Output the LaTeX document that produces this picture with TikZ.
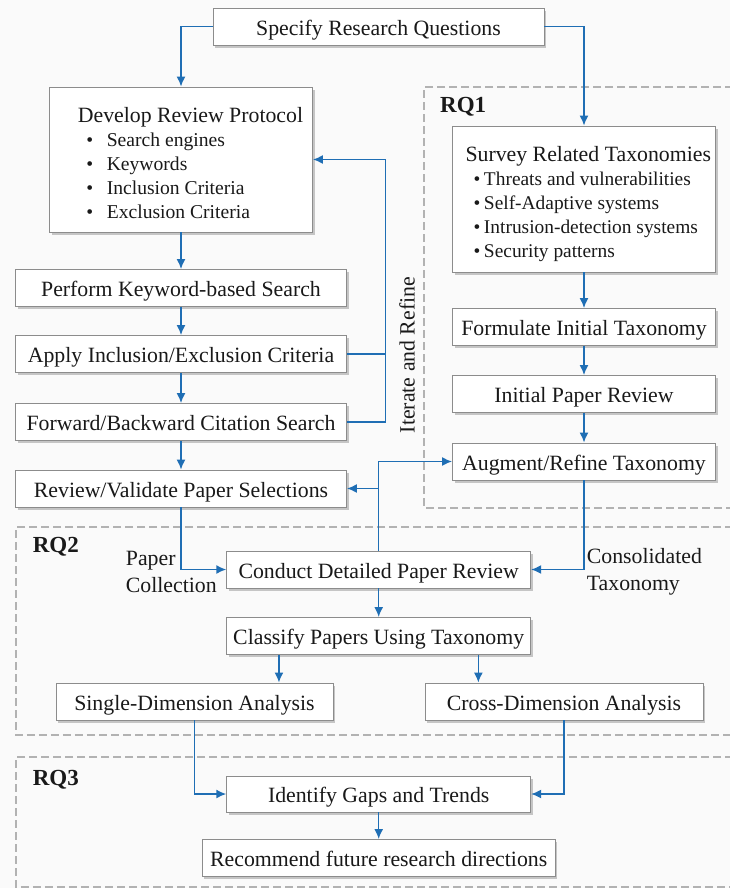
\documentclass[tikz,border=0pt]{standalone}
\usepackage{fontspec}
\setmainfont{Liberation Serif}
\usetikzlibrary{arrows.meta,shadows}
\definecolor{flowblue}{RGB}{31,110,180}
\definecolor{boxline}{RGB}{140,140,140}
\definecolor{rqline}{RGB}{178,178,178}
\definecolor{pagebg}{RGB}{250,250,250}
\definecolor{inktext}{RGB}{25,25,25}
\newcommand{\bodyfont}{\fontsize{21.8bp}{24bp}\selectfont}
\newcommand{\devitem}[1]{{\fontsize{19.6bp}{24bp}\selectfont\hspace*{27.6bp}\textbullet\hspace{13.5bp}#1}}
\newcommand{\surveyitem}[1]{{\fontsize{19.4bp}{23.3bp}\selectfont\hspace*{16.7bp}\textbullet\hspace{3.5bp}#1}}
\tikzset{
  stepbox/.style={draw=boxline, fill=white, line width=0.9bp, inner sep=0bp,
    minimum height=37bp, text height=18bp, text depth=1bp, text=inktext, font=\bodyfont,
    drop shadow={shadow xshift=2bp, shadow yshift=-2.5bp, opacity=0.3, fill=black!70}},
  listbox/.style={stepbox, text height=, text depth=, align=left},
  flow/.style={flowblue, line width=1.5bp, ->},
  flowline/.style={flowblue, line width=1.5bp},
  rqframe/.style={rqline, line width=2.6bp, dash pattern=on 8bp off 4bp},
  rqlabel/.style={font=\fontsize{23bp}{26bp}\selectfont\bfseries, text=inktext, anchor=west, inner sep=0bp},
  note/.style={font=\fontsize{21.8bp}{27bp}\selectfont, text=inktext, align=left, anchor=west, inner sep=0bp},
}
\begin{document}
\begin{tikzpicture}[>={Latex[length=10bp,width=9bp]},line join=miter]
\useasboundingbox (0bp,0bp) rectangle (730bp,-888bp);
\fill [pagebg] (0bp,0bp) rectangle (730bp,-888bp);
%% research question frames
\draw [rqframe] (745bp,-87bp) -- (424bp,-87bp) -- (424bp,-508bp) -- (745bp,-508bp);
\draw [rqframe] (745bp,-527bp) -- (16bp,-527bp) -- (16bp,-735bp) -- (745bp,-735bp);
\draw [rqframe] (745bp,-757bp) -- (16bp,-757bp) -- (16bp,-887bp) -- (745bp,-887bp);
\node (node_rq1) at (440bp,-107bp) [rqlabel] {RQ1};
\node (node_rq2) at (32.6bp,-547bp) [rqlabel] {RQ2};
\node (node_rq3) at (32.6bp,-780bp) [rqlabel] {RQ3};
%%
\node (node_specify) at (378.5bp,-26.5bp) [stepbox,minimum width=331bp] {Specify Research Questions};
\node (node_develop) at (181bp,-159.5bp) [listbox,minimum width=263bp,minimum height=145bp] {%
  \hspace*{19bp}\rule{0pt}{22bp}Develop Review Protocol\\
  \devitem{Search engines}\\
  \devitem{Keywords}\\
  \devitem{Inclusion Criteria}\\
  \devitem{Exclusion Criteria}};
\node (node_perform) at (181bp,-288bp) [stepbox,minimum width=331bp] {Perform Keyword-based Search};
\node (node_apply) at (181bp,-354bp) [stepbox,minimum width=331bp] {Apply Inclusion/Exclusion Criteria};
\node (node_forward) at (181bp,-422bp) [stepbox,minimum width=331bp] {Forward/Backward Citation Search};
\node (node_review) at (181bp,-488.5bp) [stepbox,minimum width=331bp] {Review/Validate Paper Selections};
\node (node_survey) at (584bp,-199bp) [listbox,minimum width=263bp,minimum height=146bp] {%
  \hspace*{8.5bp}\rule{0pt}{26bp}Survey Related Taxonomies\\
  \surveyitem{Threats and vulnerabilities}\\
  \surveyitem{Self-Adaptive systems}\\
  \surveyitem{Intrusion-detection systems}\\
  \surveyitem{Security patterns}};
\node (node_formulate) at (584bp,-327bp) [stepbox,minimum width=263bp] {Formulate Initial Taxonomy};
\node (node_initial) at (584bp,-394bp) [stepbox,minimum width=263bp] {Initial Paper Review};
\node (node_augment) at (584bp,-461.5bp) [stepbox,minimum width=263bp] {Augment/Refine Taxonomy};
\node (node_conduct) at (378.7bp,-569.5bp) [stepbox,minimum width=304bp] {Conduct Detailed Paper Review};
\node (node_classify) at (378.7bp,-636bp) [stepbox,minimum width=304bp] {Classify Papers Using Taxonomy};
\node (node_single) at (194.5bp,-701.5bp) [stepbox,minimum width=277bp] {Single-Dimension Analysis};
\node (node_cross) at (564bp,-701.5bp) [stepbox,minimum width=278bp] {Cross-Dimension Analysis};
\node (node_identify) at (378.7bp,-794bp) [stepbox,minimum width=304bp,minimum height=36bp] {Identify Gaps and Trends};
\node (node_recommend) at (378.7bp,-858bp) [stepbox,minimum width=353bp] {Recommend future research directions};
\node (node_paper) at (125.7bp,-571.5bp) [note] {Paper\\Collection};
\node (node_consolidated) at (586.7bp,-571.5bp) [note] {Consolidated\\Taxonomy};
\node (node_iterate) at (407bp,-355bp) [rotate=90,font=\bodyfont,text=inktext] {Iterate and Refine};
\coordinate (loop_top) at (385.5bp,-159.5bp);
%%
\draw [flow] (node_specify.west) -| (node_develop.north);
\draw [flow] (node_specify.east) -| (node_survey.north);
\draw [flow] (node_develop) -- (node_perform);
\draw [flow] (node_perform) -- (node_apply);
\draw [flow] (node_apply) -- (node_forward);
\draw [flow] (node_forward) -- (node_review);
\draw [flow] (node_forward.east) -| (loop_top) -- (node_develop.east);
\draw [flowline] (node_apply.east) -- (node_apply.east -| loop_top);
\draw [flow] (node_survey) -- (node_formulate);
\draw [flow] (node_formulate) -- (node_initial);
\draw [flow] (node_initial) -- (node_augment);
\draw [flow] (node_conduct.north) |- (node_augment.west);
\draw [flow] (node_conduct.north |- node_review.east) -- (node_review.east);
\draw [flow] (node_review.south) |- (node_conduct.west);
\draw [flow] (node_augment.south) |- (node_conduct.east);
\draw [flow] (node_conduct) -- (node_classify);
\draw [flow] ([xshift=52.7bp]node_classify.south west) -- ([xshift=52.7bp]node_classify.south west |- node_single.north);
\draw [flow] ([xshift=-52.8bp]node_classify.south east) -- ([xshift=-52.8bp]node_classify.south east |- node_cross.north);
\draw [flow] (node_single.south) |- (node_identify.west);
\draw [flow] (node_cross.south) |- (node_identify.east);
\draw [flow] (node_identify) -- (node_recommend);
%
\end{tikzpicture}
\end{document}
